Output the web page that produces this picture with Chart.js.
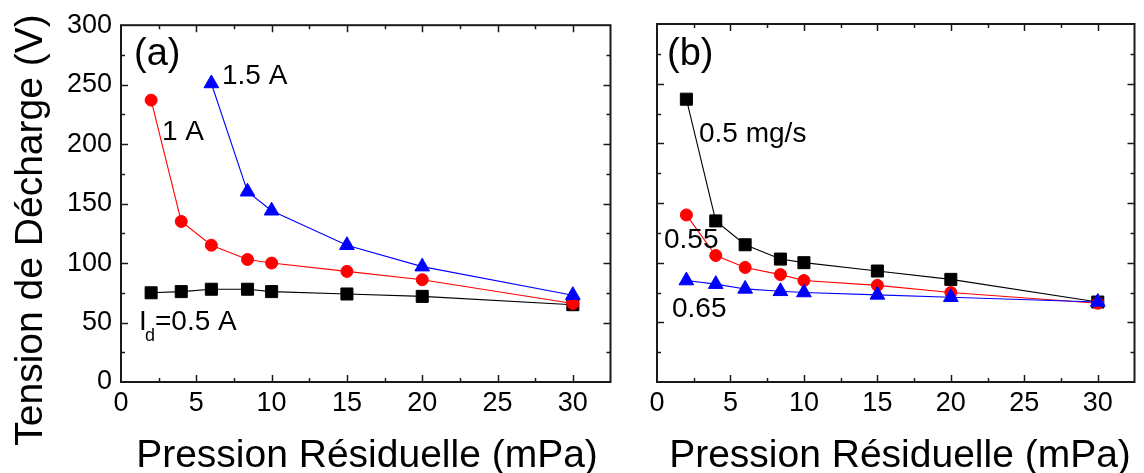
<!DOCTYPE html>
<html>
<head>
<meta charset="utf-8">
<script src="https://cdn.jsdelivr.net/npm/chart.js@4/dist/chart.umd.min.js"></script>
<style>
  html, body { margin: 0; padding: 0; background: #fff; overflow: hidden; }
  #wrap { position: relative; width: 1144px; height: 473px; }
  canvas { position: absolute; top: 0; }
  #c1 { left: 0; }
  #c2 { left: 620px; }
</style>
</head>
<body>
<div id="wrap">
  <canvas id="c1" width="620" height="473"></canvas>
  <canvas id="c2" width="524" height="473"></canvas>
</div>
<script>
// ---------- data ----------
const pressure = [2, 4, 6, 8.4, 10, 15, 20, 30];          // mPa
const pressureA15 = [6, 8.4, 10, 15, 20, 30];             // mPa (1.5 A series)
// panel (a): discharge voltage vs residual pressure for several discharge currents
const a_I05 = [75, 76, 78, 78, 76, 74, 72, 65];
const a_I10 = [237, 135, 115, 103, 100, 93, 86, 66];
const a_I15 = [251, 160, 144, 115, 97, 73];
// panel (b): for several mass flow rates
const b_m050 = [237, 135, 115, 103, 100, 93, 86, 67];
const b_m055 = [140, 106, 96, 90, 85, 81, 75, 66];
const b_m065 = [85, 82, 78, 76, 75, 73, 71, 67];
// tick labels
const xTicks = [0, 5, 10, 15, 20, 25, 30];
const yTicks = [0, 50, 100, 150, 200, 250, 300];
const xTitle = 'Pression Résiduelle (mPa)';
const yTitle = 'Tension de Décharge (V)';

const FONT = '"Liberation Sans", Arial, Helvetica, sans-serif';

function pts(xs, ys) { return xs.map((x, i) => ({ x: x, y: ys[i] })); }

function ds(label, xs, ys, color, style, radius) {
  return {
    label: label,
    data: pts(xs, ys),
    borderColor: color,
    backgroundColor: color,
    borderWidth: 1.1,
    pointStyle: style,
    pointRadius: radius,
    pointHoverRadius: radius,
    pointBackgroundColor: color,
    pointBorderColor: color,
    pointBorderWidth: 1,
    tension: 0,
    fill: false
  };
}

// frame + inward ticks on all four sides
const frameTicks = {
  id: 'frameTicks',
  afterDatasetsDraw(chart) {
    const { ctx, chartArea: { left, right, top, bottom }, scales: { x, y } } = chart;
    ctx.save();
    ctx.strokeStyle = '#1a1a1a';
    ctx.lineWidth = 1.5;
    ctx.beginPath();
    const xStep = xTicks[1] - xTicks[0];
    for (let v = xTicks[0] + xStep / 2; v <= xTicks[xTicks.length - 1] + 1e-6; v += xStep / 2) {
      const px = Math.round(x.getPixelForValue(v)) + 0.5;
      const major = Math.abs(v / xStep - Math.round(v / xStep)) < 1e-6;
      const len = major ? 7 : 4;
      ctx.moveTo(px, bottom); ctx.lineTo(px, bottom - len);
      ctx.moveTo(px, top); ctx.lineTo(px, top + len);
    }
    const yStep = yTicks[1] - yTicks[0];
    for (let v = yTicks[0] + yStep / 2; v < yTicks[yTicks.length - 1] - 1e-6; v += yStep / 2) {
      const py = Math.round(y.getPixelForValue(v)) + 0.5;
      const major = Math.abs(v / yStep - Math.round(v / yStep)) < 1e-6;
      const len = major ? 7 : 4;
      ctx.moveTo(left, py); ctx.lineTo(left + len, py);
      ctx.moveTo(right, py); ctx.lineTo(right - len, py);
    }
    ctx.stroke();
    ctx.lineWidth = 2;
    ctx.strokeRect(left, top, right - left, bottom - top);
    ctx.restore();
  }
};

// titles and in-plot labels
function textPlugin(items) {
  return {
    id: 'texts',
    afterDraw(chart) {
      const ctx = chart.ctx;
      ctx.save();
      ctx.fillStyle = '#000';
      ctx.textBaseline = 'alphabetic';
      items.forEach(it => {
        ctx.save();
        ctx.font = it.size + 'px ' + FONT;
        ctx.textAlign = it.align || 'left';
        ctx.translate(it.x, it.y);
        if (it.rot) ctx.rotate(it.rot);
        ctx.fillText(it.text, 0, 0);
        ctx.restore();
      });
      ctx.restore();
    }
  };
}

function makeChart(id, datasets, yWidth, rightPad, showYLabels, texts) {
  return new Chart(document.getElementById(id), {
    type: 'line',
    data: { datasets: datasets },
    options: {
      responsive: false,
      animation: false,
      events: [],
      layout: { padding: { top: 24, right: rightPad, bottom: 0, left: 0 } },
      plugins: { legend: { display: false }, tooltip: { enabled: false } },
      scales: {
        x: {
          type: 'linear',
          min: 0, max: 32.5,
          grid: { display: false, drawTicks: false },
          border: { display: false },
          afterBuildTicks: s => { s.ticks = xTicks.map(v => ({ value: v })); },
          afterFit: s => { s.height = 91; },
          ticks: {
            color: '#000', padding: 5, maxRotation: 0, autoSkip: false,
            font: { family: FONT, size: 27 }
          }
        },
        y: {
          type: 'linear',
          min: 0, max: 300,
          grid: { display: false, drawTicks: false },
          border: { display: false },
          afterBuildTicks: s => { s.ticks = yTicks.map(v => ({ value: v })); },
          afterFit: s => { s.width = yWidth; },
          ticks: {
            display: showYLabels,
            color: '#000', padding: 9, autoSkip: false,
            font: { family: FONT, size: 27 }
          }
        }
      }
    },
    plugins: [frameTicks, textPlugin(texts)]
  });
}

// Panel (a)
makeChart('c1', [
  ds('1.5 A', pressureA15, a_I15, '#0000ff', 'triangle', 8.5),
  ds('1 A', pressure, a_I10, '#ff0000', 'circle', 6),
  ds('Id=0.5 A', pressure, a_I05, '#000000', 'rect', 8.5)
], 121, 7, true, [
  { text: yTitle, x: 42, y: 230, size: 39, align: 'center', rot: -Math.PI / 2 },
  { text: xTitle, x: 367, y: 467, size: 39, align: 'center' },
  { text: '(a)', x: 134, y: 65, size: 38 },
  { text: '1.5 A', x: 222, y: 84, size: 28 },
  { text: '1 A', x: 162, y: 140, size: 28 },
  { text: 'I', x: 139, y: 330, size: 28 },
  { text: 'd', x: 145, y: 341, size: 18 },
  { text: '=0.5 A', x: 155, y: 330, size: 28 }
]);

// Panel (b)
makeChart('c2', [
  ds('0.65', pressure, b_m065, '#0000ff', 'triangle', 8.5),
  ds('0.55', pressure, b_m055, '#ff0000', 'circle', 6),
  ds('0.5 mg/s', pressure, b_m050, '#000000', 'rect', 8.5)
], 37, 1, false, [
  { text: xTitle, x: 280, y: 467, size: 39, align: 'center' },
  { text: '(b)', x: 47, y: 65, size: 38 },
  { text: '0.5 mg/s', x: 79, y: 142, size: 28 },
  { text: '0.55', x: 44, y: 248, size: 28 },
  { text: '0.65', x: 52, y: 317, size: 28 }
]);
</script>
</body>
</html>
